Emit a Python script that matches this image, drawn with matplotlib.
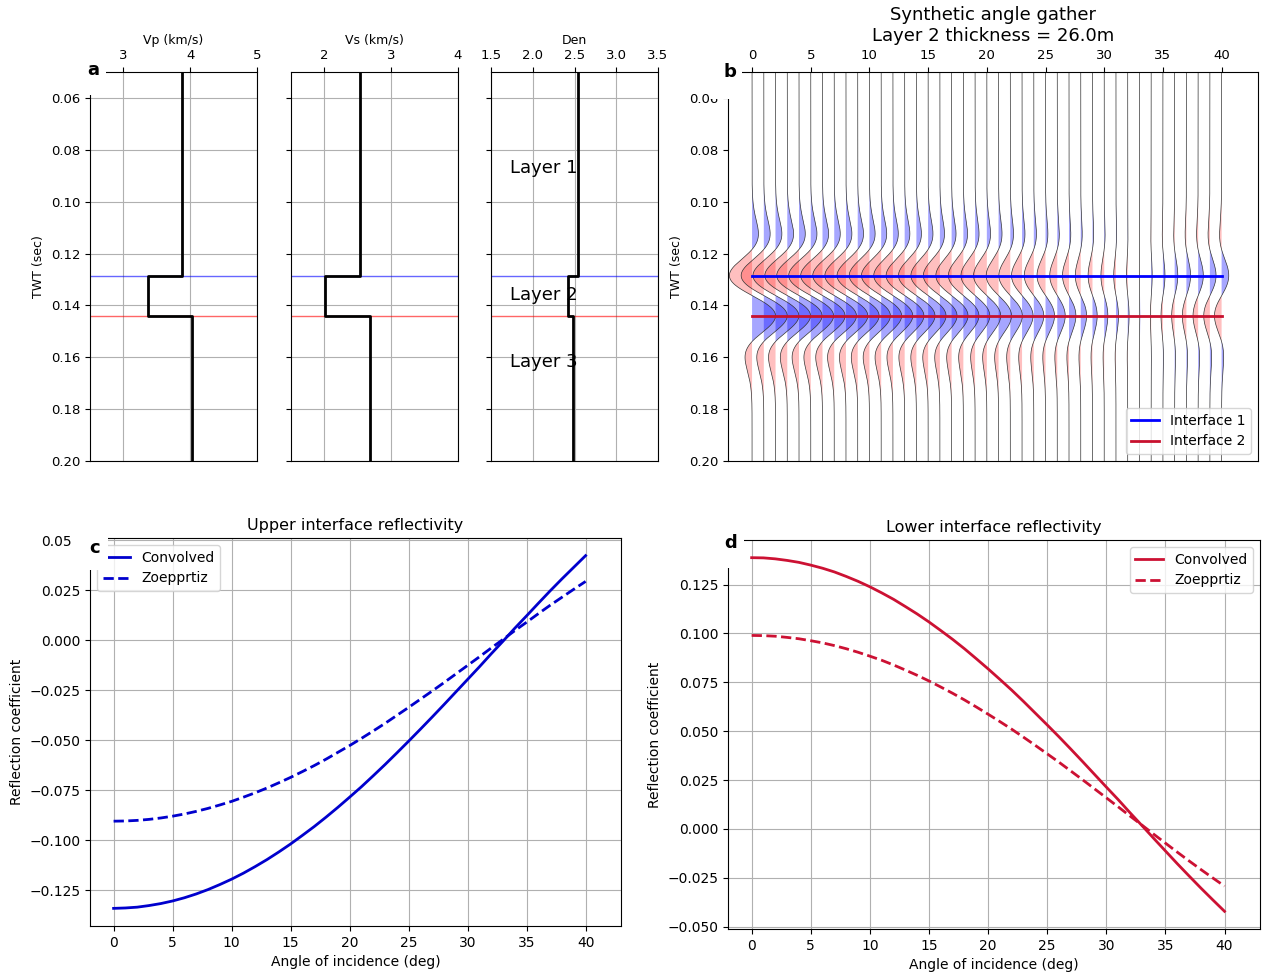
import numpy as np
import matplotlib.pyplot as plt
from matplotlib.patches import Rectangle

W, H = 1263, 975

# three-layer model
vp_mod  = [3.87, 3.37, 4.03]    # km/s
vs_mod  = [2.53, 2.01, 2.68]    # km/s
rho_mod = [2.54, 2.42, 2.485]   # g/cc
t_int   = [0.1285, 0.144]       # interface times (s)
thickness = 26.0
layer_names = ['Layer 1', 'Layer 2', 'Layer 3']
layer_text_t = [0.087, 0.136, 0.162]

angles = np.arange(0, 41)

rc_zoep_upper = [-0.0905, -0.0904, -0.0901, -0.0896, -0.0889, -0.0880, -0.0869, -0.0856,
                 -0.0841, -0.0824, -0.0806, -0.0785, -0.0763, -0.0739, -0.0713, -0.0686,
                 -0.0657, -0.0627, -0.0595, -0.0561, -0.0527, -0.0491, -0.0454, -0.0416,
                 -0.0376, -0.0336, -0.0295, -0.0254, -0.0212, -0.0169, -0.0126, -0.0083,
                 -0.0039, 0.0004, 0.0048, 0.0090, 0.0133, 0.0175, 0.0215, 0.0255, 0.0294]
rc_zoep_lower = [0.0990, 0.0989, 0.0986, 0.0980, 0.0973, 0.0963, 0.0952, 0.0938,
                 0.0922, 0.0904, 0.0884, 0.0863, 0.0839, 0.0813, 0.0786, 0.0757,
                 0.0726, 0.0694, 0.0660, 0.0624, 0.0587, 0.0549, 0.0510, 0.0469,
                 0.0427, 0.0384, 0.0341, 0.0296, 0.0251, 0.0205, 0.0159, 0.0113,
                 0.0066, 0.0020, -0.0027, -0.0073, -0.0119, -0.0164, -0.0208, -0.0251, -0.0293]
rc_conv_upper = [-0.1341, -0.1339, -0.1335, -0.1327, -0.1317, -0.1304, -0.1288, -0.1269,
                 -0.1247, -0.1222, -0.1195, -0.1165, -0.1132, -0.1097, -0.1059, -0.1019,
                 -0.0976, -0.0932, -0.0885, -0.0836, -0.0785, -0.0733, -0.0678, -0.0622,
                 -0.0564, -0.0505, -0.0445, -0.0384, -0.0322, -0.0259, -0.0196, -0.0133,
                 -0.0068, -0.0005, 0.0060, 0.0122, 0.0185, 0.0247, 0.0307, 0.0365, 0.0423]
rc_conv_lower = [0.1388, 0.1387, 0.1382, 0.1374, 0.1364, 0.1350, 0.1334, 0.1315,
                 0.1292, 0.1267, 0.1239, 0.1208, 0.1175, 0.1138, 0.1100, 0.1059,
                 0.1015, 0.0970, 0.0922, 0.0871, 0.0819, 0.0765, 0.0710, 0.0652,
                 0.0592, 0.0532, 0.0471, 0.0408, 0.0344, 0.0279, 0.0214, 0.0150,
                 0.0083, 0.0018, -0.0048, -0.0113, -0.0178, -0.0241, -0.0303, -0.0363, -0.0422]

freq = 25.0        # ricker wavelet, Hz
excursion = 2.0    # max trace deflection in traces

def ricker(f, tt):
    a = (np.pi*f*tt)**2
    return (1 - 2*a)*np.exp(-a)

def axpos(x0, y0, x1, y1):
    return [x0/W, 1 - y1/H, (x1 - x0)/W, (y1 - y0)/H]

fig = plt.figure(figsize=(W/100, H/100), dpi=100)

# ---- a: log tracks
tmin, tmax = 0.05, 0.20
logs = [(vp_mod, 'Vp (km/s)', (2.5, 5), [3, 4, 5], ['3', '4', '5'], 90),
        (vs_mod, 'Vs (km/s)', (1.5, 4), [2, 3, 4], ['2', '3', '4'], 291),
        (rho_mod, 'Den', (1.5, 3.5), [1.5, 2.0, 2.5, 3.0, 3.5],
         ['1.5', '2.0', '2.5', '3.0', '3.5'], 491)]
track_axes = []
for k, (vals, lab, xl, xt, xtl, x0) in enumerate(logs):
    ax = fig.add_axes(axpos(x0, 72, x0 + 167, 461))
    xs = [vals[0], vals[0], vals[1], vals[1], vals[2], vals[2]]
    ys = [tmin, t_int[0], t_int[0], t_int[1], t_int[1], tmax]
    ax.plot(xs, ys, 'k', lw=2, zorder=3)
    ax.axhline(t_int[0], color='blue', lw=1, alpha=0.6)
    ax.axhline(t_int[1], color='red', lw=1, alpha=0.6)
    ax.set_xlim(*xl)
    ax.set_ylim(tmax, tmin)
    ax.xaxis.tick_top()
    ax.xaxis.set_label_position('top')
    ax.set_xticks(xt)
    ax.set_xticklabels(xtl)
    ax.set_xlabel(lab, fontsize=9)
    ax.set_yticks(np.arange(0.06, 0.201, 0.02))
    ax.tick_params(labelsize=9.5)
    ax.grid(True)
    if k == 0:
        ax.set_ylabel('TWT (sec)', fontsize=9)
    else:
        ax.set_yticklabels([])
    track_axes.append(ax)

for name, tt in zip(layer_names, layer_text_t):
    track_axes[2].text(1.73, tt, name, fontsize=13, ha='left', va='center', zorder=4)

# ---- b: synthetic angle gather
axb = fig.add_axes(axpos(728, 72, 1258, 461))
t = np.arange(tmin, tmax + 0.0001, 0.0002)
syn = np.array([r1*ricker(freq, t - t_int[0]) + r2*ricker(freq, t - t_int[1])
                for r1, r2 in zip(rc_zoep_upper, rc_zoep_lower)])
syn = syn/np.abs(syn).max()*excursion
for i, a in enumerate(angles):
    x = a + syn[i]
    axb.fill_betweenx(t, a, x, where=syn[i] > 0, color='blue', alpha=0.35, lw=0, interpolate=True)
    axb.fill_betweenx(t, a, x, where=syn[i] < 0, color='red', alpha=0.25, lw=0, interpolate=True)
    axb.plot(x, t, color='#333333', lw=0.5)
axb.plot([angles[0], angles[-1]], [t_int[0]]*2, color='blue', lw=2, label='Interface 1')
axb.plot([angles[0], angles[-1]], [t_int[1]]*2, color='#c8102e', lw=2, label='Interface 2')
axb.set_xlim(-2.05, 43.1)
axb.set_ylim(tmax, tmin)
axb.xaxis.tick_top()
axb.set_xticks(np.arange(0, 41, 5))
axb.set_yticks(np.arange(0.06, 0.201, 0.02))
axb.tick_params(labelsize=9.5)
axb.set_ylabel('TWT (sec)', fontsize=9)
axb.set_title('Synthetic angle gather\nLayer 2 thickness = %.1fm' % thickness, fontsize=13)
axb.legend(loc='lower right', fontsize=10)

# ---- c, d: reflectivity curves
curve_panels = [(axpos(90, 538, 621, 926), rc_conv_upper, rc_zoep_upper, 'mediumblue',
                 'Upper interface reflectivity', 'upper left'),
                (axpos(728, 540, 1260, 929), rc_conv_lower, rc_zoep_lower, '#cc1133',
                 'Lower interface reflectivity', 'upper right')]
for pos, conv, zoep, col, title, lloc in curve_panels:
    ax = fig.add_axes(pos)
    ax.plot(angles, conv, color=col, lw=2, label='Convolved')
    ax.plot(angles, zoep, color=col, lw=2, ls='--', label='Zoepprtiz')
    ax.set_xlim(-2, 43)
    ax.set_xticks(np.arange(0, 41, 5))
    ax.grid(True)
    ax.tick_params(labelsize=10)
    ax.set_xlabel('Angle of incidence (deg)', fontsize=10)
    ax.set_ylabel('Reflection coefficient', fontsize=10)
    ax.set_title(title, fontsize=11.5)
    ax.legend(loc=lloc, fontsize=10)

# panel letters on white patches
letters = [('a', 93, 70, (80, 55, 106, 95)),
           ('b', 730, 72, (710, 50, 742, 99)),
           ('c', 95, 548, (72, 528, 108, 570)),
           ('d', 731, 543, (712, 525, 744, 568))]
for s, lx, ly, (bx0, by0, bx1, by1) in letters:
    fig.add_artist(Rectangle((bx0/W, 1 - by1/H), (bx1 - bx0)/W, (by1 - by0)/H,
                             transform=fig.transFigure, facecolor='white',
                             edgecolor='none', zorder=10))
    fig.text(lx/W, 1 - ly/H, s, fontsize=13, fontweight='bold',
             ha='center', va='center', zorder=11)

fig.savefig('out.png', dpi=100)
